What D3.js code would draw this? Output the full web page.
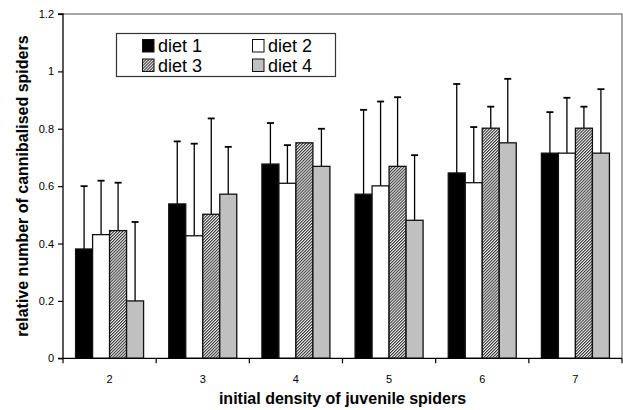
<!DOCTYPE html>
<html>
<head>
<meta charset="utf-8">
<script src="https://cdn.jsdelivr.net/npm/d3@7"></script>
<style>
  html, body { margin: 0; padding: 0; background: #fff; }
  svg { display: block; font-family: "Liberation Sans", Arial, sans-serif; }
</style>
</head>
<body>
<svg id="chart" width="623" height="410"></svg>
<script>
const categories = ["2", "3", "4", "5", "6", "7"];
const series = ["diet 1", "diet 2", "diet 3", "diet 4"];
const diet1 = [0.381, 0.538, 0.677, 0.572, 0.646, 0.715];
const diet2 = [0.431, 0.427, 0.610, 0.601, 0.612, 0.715];
const diet3 = [0.445, 0.502, 0.751, 0.669, 0.802, 0.802];
const diet4 = [0.200, 0.572, 0.669, 0.481, 0.751, 0.715];
const diet1Upper = [0.600, 0.756, 0.820, 0.866, 0.956, 0.858];
const diet2Upper = [0.619, 0.748, 0.743, 0.895, 0.806, 0.908];
const diet3Upper = [0.612, 0.836, 0.751, 0.910, 0.877, 0.877];
const diet4Upper = [0.475, 0.737, 0.800, 0.708, 0.974, 0.938];
const yTicks = [0, 0.2, 0.4, 0.6, 0.8, 1, 1.2];
const yTickLabels = ["0", "0.2", "0.4", "0.6", "0.8", "1", "1.2"];
const xTitle = "initial density of juvenile spiders";
const yTitle = "relative number of cannibalised spiders";

const values = [diet1, diet2, diet3, diet4];
const uppers = [diet1Upper, diet2Upper, diet3Upper, diet4Upper];

const svg = d3.select("#chart");
const pLeft = 63, pRight = 622, pTop = 14, pBottom = 358.3;

const defs = svg.append("defs");
const pat = defs.append("pattern")
  .attr("id", "hatch")
  .attr("patternUnits", "userSpaceOnUse")
  .attr("width", 2.1).attr("height", 2.1)
  .attr("patternTransform", "rotate(45)");
pat.append("rect").attr("width", 2.1).attr("height", 2.1).attr("fill", "#f4f4f4");
pat.append("rect").attr("width", 1.05).attr("height", 2.1).attr("fill", "#333");

const fills = ["#000", "#fff", "url(#hatch)", "#c0c0c0"];

const x = d3.scaleBand().domain(categories).range([pLeft, pRight]).paddingInner(0).paddingOuter(0);
const xs = d3.scaleBand().domain(series).range([0, x.bandwidth()]).paddingInner(0).paddingOuter(0.74);
const y = d3.scaleLinear().domain([0, 1.2]).range([pBottom, pTop]);

// plot frame (top/right gray)
svg.append("path")
  .attr("d", `M${pLeft},${pTop}H${pRight}V${pBottom}`)
  .attr("fill", "none").attr("stroke", "#8a8a8a").attr("stroke-width", 1.5);

const rows = [];
categories.forEach((c, i) => {
  series.forEach((s, j) => {
    rows.push({ c, s, j, v: values[j][i], u: uppers[j][i] });
  });
});

// error bars
const eb = svg.append("g").attr("stroke", "#000").attr("stroke-width", 1.3);
rows.filter(d => d.u > d.v + 0.001).forEach(d => {
  const cx = x(d.c) + xs(d.s) + xs.bandwidth() / 2;
  eb.append("line").attr("x1", cx).attr("x2", cx).attr("y1", y(d.v)).attr("y2", y(d.u));
  eb.append("line").attr("x1", cx - 3.5).attr("x2", cx + 3.5).attr("y1", y(d.u)).attr("y2", y(d.u)).attr("stroke-width", 1.8);
});

// bars
svg.append("g").selectAll("rect").data(rows).join("rect")
  .attr("x", d => x(d.c) + xs(d.s))
  .attr("y", d => y(d.v))
  .attr("width", xs.bandwidth())
  .attr("height", d => y(0) - y(d.v))
  .attr("fill", d => fills[d.j])
  .attr("stroke", "#111").attr("stroke-width", 1.3);

// y axis
const yAxis = d3.axisLeft(y).tickValues(yTicks).tickFormat((d, i) => yTickLabels[i]).tickSize(5).tickPadding(4);
const gy = svg.append("g").attr("transform", `translate(${pLeft},0)`).call(yAxis);
gy.select(".domain").attr("d", `M-5,${pTop}H0V${pBottom}H-5`).attr("stroke", "#000").attr("stroke-width", 1.3);
gy.selectAll(".tick line").attr("stroke", "#000").attr("stroke-width", 1.2);
gy.selectAll(".tick text").attr("font-size", 11).attr("fill", "#000").attr("font-family", "Liberation Sans, Arial, sans-serif");

// x axis
const xAxis = d3.axisBottom(x).tickSize(0).tickPadding(17);
const gx = svg.append("g").attr("transform", `translate(0,${pBottom})`).call(xAxis);
gx.select(".domain").attr("d", `M${pLeft},0H${pRight}`).attr("stroke", "#000").attr("stroke-width", 1.3);
gx.selectAll(".tick text").attr("font-size", 11).attr("fill", "#000").attr("font-family", "Liberation Sans, Arial, sans-serif");
const bounds = categories.map(c => x(c)).concat([pRight]);
gx.selectAll(".bound").data(bounds).join("line").attr("class", "bound")
  .attr("x1", d => d).attr("x2", d => d).attr("y1", 0).attr("y2", 5)
  .attr("stroke", "#000").attr("stroke-width", 1.2);

// axis titles
svg.append("text").attr("x", (pLeft + pRight) / 2).attr("y", 404)
  .attr("text-anchor", "middle").attr("font-size", 16).attr("font-weight", "bold").text(xTitle);
svg.append("text").attr("transform", `translate(28,${(pTop + pBottom) / 2}) rotate(-90)`)
  .attr("text-anchor", "middle").attr("font-size", 16).attr("font-weight", "bold").text(yTitle);

// legend
const lg = svg.append("g");
lg.append("rect").attr("x", 116.5).attr("y", 33.5).attr("width", 219).attr("height", 43)
  .attr("fill", "#fff").attr("stroke", "#333").attr("stroke-width", 1.2);
const legPos = [[142.5, 39.5], [252.5, 39.5], [142.5, 59], [252.5, 59]];
series.forEach((s, j) => {
  const [lx, ly] = legPos[j];
  lg.append("rect").attr("x", lx).attr("y", ly).attr("width", 11.5).attr("height", 12.5)
    .attr("fill", fills[j]).attr("stroke", "#111").attr("stroke-width", 1);
  lg.append("text").attr("x", lx + 15.5).attr("y", ly + 12.5)
    .attr("font-size", 18).attr("fill", "#000").text(s);
});
</script>
</body>
</html>
